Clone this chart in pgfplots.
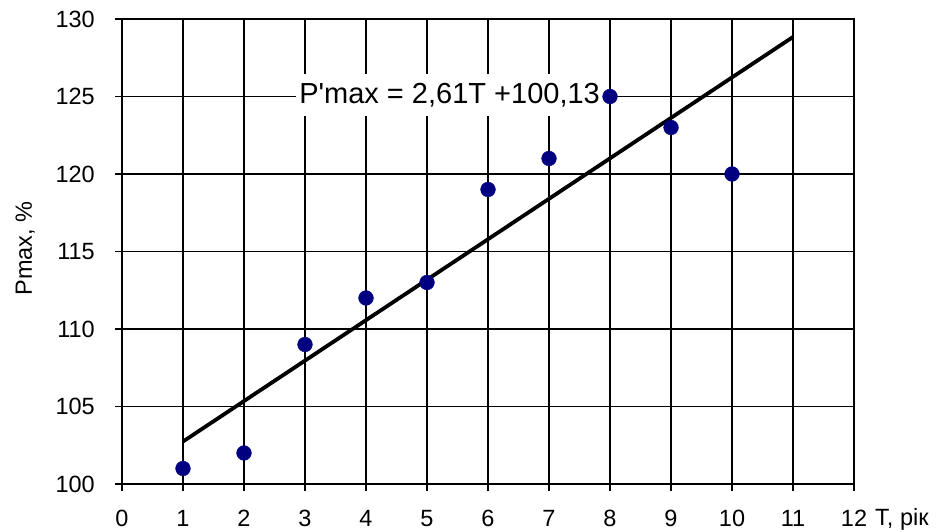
\documentclass[border=0pt]{standalone}
\usepackage{fontspec}
\setmainfont{Liberation Sans}
\usepackage{pgfplots}
\pgfplotsset{compat=1.18}
\usetikzlibrary{calc}
\definecolor{dotblue}{RGB}{0,0,128}

\newcommand{\tickfont}{\fontsize{23.5bp}{27bp}\selectfont}
\newcommand{\eqfont}{\fontsize{29bp}{34bp}\selectfont}

\begin{document}
\begin{tikzpicture}
\begin{axis}[
  scale only axis,
  width=732bp, height=465bp,
  xmin=0, xmax=12, ymin=100, ymax=130,
  xtick={0,1,...,12},
  ytick={100,105,...,130},
  tick pos=left,
  tick align=outside,
  major tick length=7bp,
  tick style={black, line width=1.6bp},
  grid=major,
  major grid style={black, line width=1.6bp},
  axis line style={black, line width=2.6bp},
  /pgf/number format/assume math mode=true,
  ticklabel style={font=\tickfont, inner sep=0pt},
  yticklabel style={anchor=east, xshift=-20bp},
  xticklabel style={anchor=north, yshift=-19bp},
  clip=false,
]
  % fitted trend P'max = 2,61T + 100,13
  \addplot[black, line width=3.8bp] coordinates {(1,102.74) (11,128.84)};

  \node[fill=white, inner xsep=3bp, inner ysep=9bp, font=\eqfont]
    at (axis cs:5.37,125.1) {P\textquotesingle max = 2,61T +100,13};

  % observed values
  \addplot[only marks, mark=*, mark size=7.4bp, color=dotblue, mark options={draw=dotblue, fill=dotblue}]
    coordinates {
      (1,101) (2,102) (3,109) (4,112) (5,113)
      (6,119) (7,121) (8,125) (9,123) (10,120)
    };

  \coordinate (bl) at (rel axis cs:0,0);
  \coordinate (ml) at (rel axis cs:0,0.5);
  \coordinate (br) at (rel axis cs:1,0);
  \coordinate (tr) at (rel axis cs:1,1);
\end{axis}
% axis titles
\node[rotate=90, anchor=base, font=\tickfont, inner sep=0pt]
  at ($(ml)+(-90bp,3bp)$) {Pmax, \%};
\node[anchor=base west, font=\tickfont, inner sep=0pt]
  at ($(br)+(21bp,-41bp)$) {T, рік};
\pgfresetboundingbox
\path ($(bl)+(-122bp,-48bp)$) rectangle ($(tr)+(89bp,19bp)$);
\end{tikzpicture}
\end{document}
